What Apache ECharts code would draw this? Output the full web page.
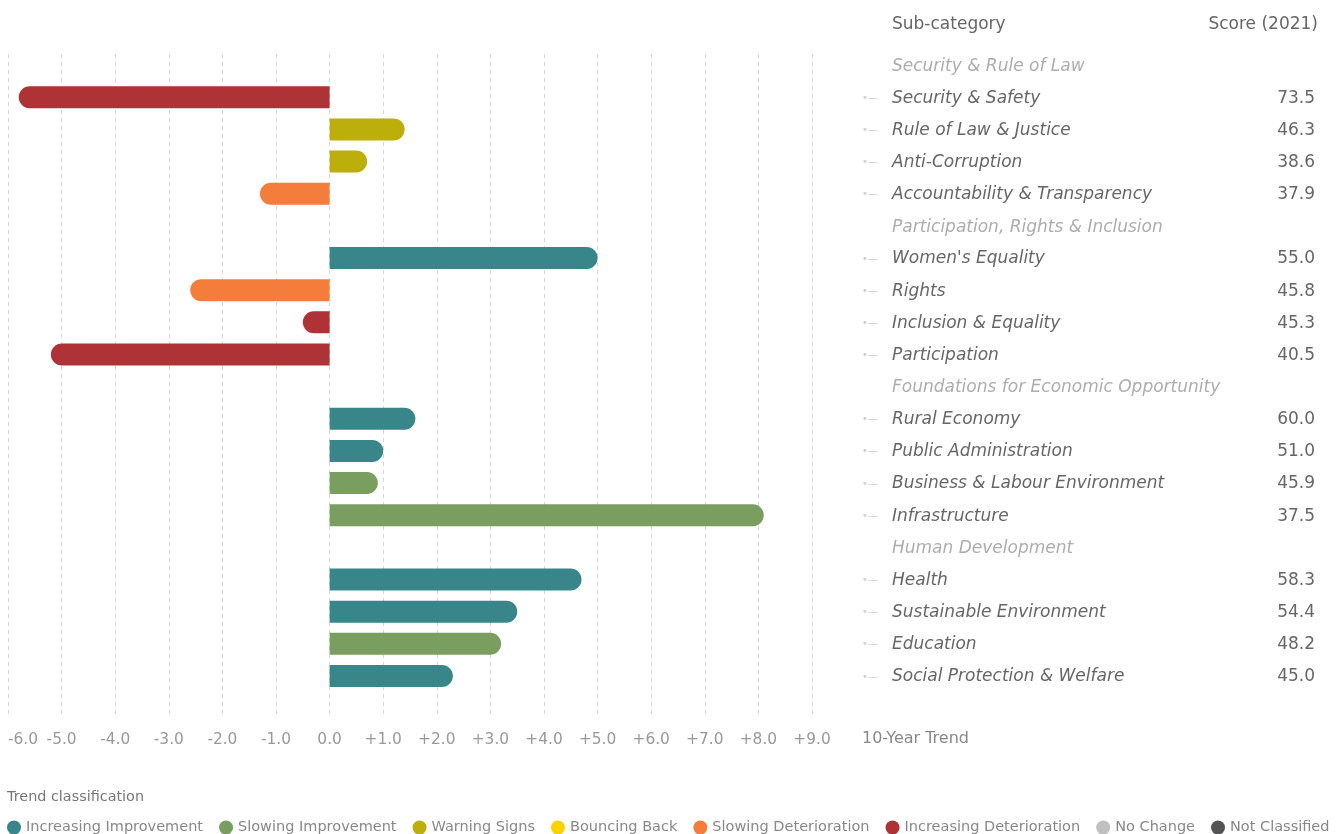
<!DOCTYPE html>
<html>
<head>
<meta charset="utf-8">
<title>10-Year Trend by Sub-category</title>
<script src="https://cdn.jsdelivr.net/npm/echarts@6/dist/echarts.min.js"></script>
<style>
  html, body { margin: 0; padding: 0; background: #fff; }
  #chart { width: 1340px; height: 834px; }
</style>
</head>
<body>
<div id="chart"></div>
<script>
// rows of the table, top to bottom (group headers included)
var rowLabels = [
    'Security & Rule of Law',
    'Security & Safety', 'Rule of Law & Justice', 'Anti-Corruption', 'Accountability & Transparency',
    'Participation, Rights & Inclusion',
    "Women's Equality", 'Rights', 'Inclusion & Equality', 'Participation',
    'Foundations for Economic Opportunity',
    'Rural Economy', 'Public Administration', 'Business & Labour Environment', 'Infrastructure',
    'Human Development',
    'Health', 'Sustainable Environment', 'Education', 'Social Protection & Welfare'
];
var groupLabels = [
    'Security & Rule of Law',
    'Participation, Rights & Inclusion',
    'Foundations for Economic Opportunity',
    'Human Development'
];
var scores = [
    '', '73.5', '46.3', '38.6', '37.9',
    '', '55.0', '45.8', '45.3', '40.5',
    '', '60.0', '51.0', '45.9', '37.5',
    '', '58.3', '54.4', '48.2', '45.0'
];
var trendValues = [
    null, -5.8, 1.4, 0.7, -1.3,
    null, 5.0, -2.6, -0.5, -5.2,
    null, 1.6, 1.0, 0.9, 8.1,
    null, 4.7, 3.5, 3.2, 2.3
];
var trendClass = [
    null, 'Increasing Deterioration', 'Warning Signs', 'Warning Signs', 'Slowing Deterioration',
    null, 'Increasing Improvement', 'Slowing Deterioration', 'Increasing Deterioration', 'Increasing Deterioration',
    null, 'Increasing Improvement', 'Increasing Improvement', 'Slowing Improvement', 'Slowing Improvement',
    null, 'Increasing Improvement', 'Increasing Improvement', 'Slowing Improvement', 'Increasing Improvement'
];
var classNames = [
    'Increasing Improvement', 'Slowing Improvement', 'Warning Signs', 'Bouncing Back',
    'Slowing Deterioration', 'Increasing Deterioration', 'No Change', 'Not Classified'
];
var classColors = {
    'Increasing Improvement': '#38858a',
    'Slowing Improvement': '#7a9e5f',
    'Warning Signs': '#bcaf0c',
    'Bouncing Back': '#fad200',
    'Slowing Deterioration': '#f47d3b',
    'Increasing Deterioration': '#af3236',
    'No Change': '#c0c0c2',
    'Not Classified': '#545456'
};

var font = 'DejaVu Sans';

// one series per trend class, all bars overlap on the same row slot
var series = classNames.map(function (cls) {
    return {
        name: cls,
        type: 'bar',
        xAxisIndex: 0,
        yAxisIndex: 0,
        barWidth: 22,
        barGap: '-100%',
        itemStyle: {color: classColors[cls]},
        data: trendValues.map(function (v, i) {
            if (trendClass[i] !== cls || v === null) return '-';
            return {
                value: v,
                itemStyle: {borderRadius: v >= 0 ? [0, 11, 11, 0] : [11, 0, 0, 11]}
            };
        })
    };
});

var myChart = echarts.init(document.getElementById('chart'));
var option = {
    animation: false,
    textStyle: {fontFamily: font},
    title: [
        {text: 'Sub-category', left: 892, top: 16, padding: 0,
            textStyle: {fontFamily: font, fontSize: 17, fontWeight: 'normal', color: '#666'}},
        {text: 'Score (2021)', right: 22, top: 16, padding: 0,
            textStyle: {fontFamily: font, fontSize: 17, fontWeight: 'normal', color: '#666'}},
        {text: '10-Year Trend', left: 862, top: 731, padding: 0,
            textStyle: {fontFamily: font, fontSize: 16, fontWeight: 'normal', color: '#888'}},
        {text: 'Trend classification', left: 7, top: 790, padding: 0,
            textStyle: {fontFamily: font, fontSize: 14.4, fontWeight: 'normal', color: '#777'}}
    ],
    legend: {
        data: classNames,
        left: 7,
        top: 820,
        width: 1333,
        padding: 0,
        icon: 'circle',
        itemWidth: 14,
        itemHeight: 14,
        itemGap: 16,
        selectedMode: false,
        textStyle: {fontFamily: font, fontSize: 14.5, color: '#888'}
    },
    grid: [
        {left: 8, width: 804, top: 49, height: 643},
        {left: 8, width: 804, top: 54, height: 662}
    ],
    xAxis: [
        {
            type: 'value', gridIndex: 0, min: -6, max: 9, interval: 1,
            axisLine: {show: false}, axisTick: {show: false},
            axisLabel: {show: false}, splitLine: {show: false}
        },
        {
            type: 'value', gridIndex: 1, min: -6, max: 9, interval: 1,
            axisLine: {show: false}, axisTick: {show: false},
            splitLine: {show: true, lineStyle: {color: '#d6d6d6', type: [4, 4], width: 1}},
            axisLabel: {
                margin: 16,
                fontFamily: font, fontSize: 15.4, color: '#999',
                alignMinLabel: 'left',
                formatter: function (v) {
                    return v > 0 ? '+' + v.toFixed(1) : v.toFixed(1);
                }
            }
        }
    ],
    yAxis: [
        {
            type: 'category', gridIndex: 0, data: rowLabels, inverse: true, position: 'right',
            axisLine: {show: false}, axisTick: {show: false}, splitLine: {show: false},
            axisLabel: {
                margin: 50,
                align: 'left',
                interval: 0,
                formatter: function (v) {
                    if (groupLabels.indexOf(v) >= 0) return '{group|' + v + '}';
                    return '{icon|•—}{name|' + v + '}';
                },
                rich: {
                    group: {fontFamily: font, fontSize: 17, fontStyle: 'italic', color: '#adadad', padding: [3, 0, 0, 30]},
                    icon: {fontFamily: font, fontSize: 10, color: '#cfcfcf', width: 30, padding: [2, 0, 0, 0]},
                    name: {fontFamily: font, fontSize: 17, fontStyle: 'italic', color: '#666', padding: [2, 0, 0, 0]}
                }
            }
        },
        {
            type: 'category', gridIndex: 0, data: scores, inverse: true, position: 'right',
            axisLine: {show: false}, axisTick: {show: false}, splitLine: {show: false},
            axisLabel: {
                margin: 503,
                align: 'right',
                interval: 0,
                formatter: function (v) { return v ? '{s|' + v + '}' : ''; },
                rich: {
                    s: {fontFamily: font, fontSize: 17, color: '#666', padding: [2, 0, 0, 0]}
                }
            }
        },
        {
            type: 'value', gridIndex: 1, show: false
        }
    ],
    series: series
};
myChart.setOption(option);
</script>
</body>
</html>
